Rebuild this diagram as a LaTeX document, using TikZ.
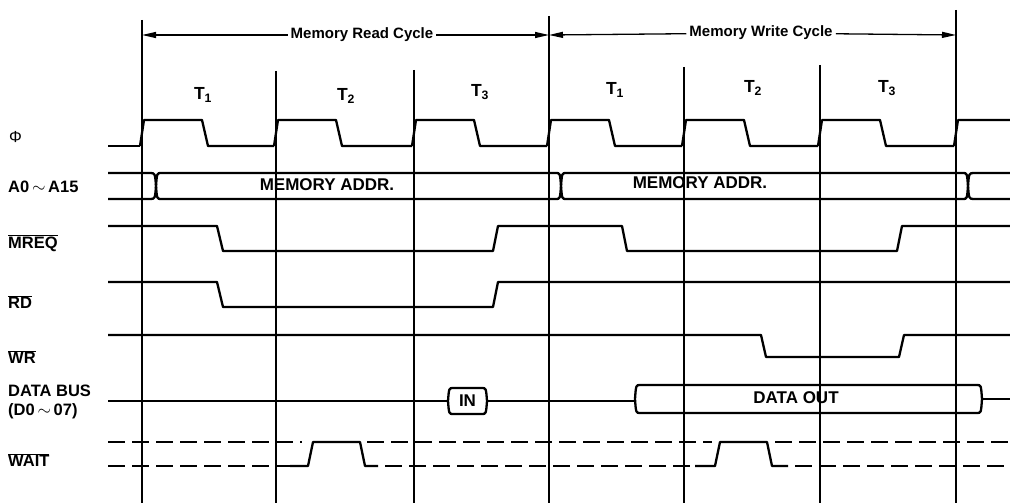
\documentclass[tikz,border=0pt]{standalone}
\usepackage{fontspec}
\setmainfont{Liberation Sans}
\usetikzlibrary{arrows.meta}

\tikzset{
	grid/.style={line width=1.3pt},
	sig/.style={line width=2.3pt, line join=round},
	dc/.style={line width=2.3pt, dash pattern=on 17pt off 7pt},
	cyc/.style={line width=1.3pt, -{Triangle[length=14pt,width=6pt]}},
	lbl/.style={anchor=west, inner sep=0pt, font=\fontsize{16.5}{19}\selectfont\bfseries},
	tlbl/.style={inner sep=0pt, font=\fontsize{17.5}{19}\selectfont\bfseries},
	cyctxt/.style={fill=white, inner sep=3pt, font=\fontsize{15}{17}\selectfont\bfseries},
	bustxt/.style={inner sep=0pt, font=\fontsize{17}{19}\selectfont\bfseries}
}

% bus box from #1 to #2, middle #3, half height #4
\newcommand{\busbox}[4]{
	\draw[sig] (#1,#3) .. controls (#1+1,#3-#4) .. (#1+5,#3-#4) -- (#2-5,#3-#4)
		.. controls (#2-1,#3-#4) .. (#2,#3) .. controls (#2-1,#3+#4) .. (#2-5,#3+#4)
		-- (#1+5,#3+#4) .. controls (#1+1,#3+#4) .. cycle;
}

\begin{document}
\begin{tikzpicture}[x=1pt,y=-1pt]

	\useasboundingbox[fill=white] (0,0) rectangle (1010,503);

	\foreach \x/\t in {142/20, 276/71, 414/70, 549/16, 684/67, 820/65, 956/10}
		\draw[grid] (\x,\t) -- (\x,503);

	\coordinate (rs) at (142,35);
	\coordinate (re) at (549,35);
	\coordinate (we) at (956,35);
	\node[cyctxt] (rtxt) at (362,35) {Memory Read Cycle};
	\node[cyctxt] (wtxt) at (761,33) {Memory Write Cycle};
	\draw[cyc] (rtxt) -- (rs);
	\draw[cyc] (rtxt) -- (re);
	\draw[cyc] (wtxt) -- (re);
	\draw[cyc] (wtxt) -- (we);

	\node[tlbl] (t1a) at (203,95) {T\textsubscript{1}};
	\node[tlbl] (t2a) at (346,96) {T\textsubscript{2}};
	\node[tlbl] (t3a) at (480,92) {T\textsubscript{3}};
	\node[tlbl] (t1b) at (615,90) {T\textsubscript{1}};
	\node[tlbl] (t2b) at (753,88) {T\textsubscript{2}};
	\node[tlbl] (t3b) at (887,88) {T\textsubscript{3}};

	\node[lbl, font=\fontsize{16}{18}\selectfont] (lphi) at (9,137) {Φ};
	\node[lbl] (laddr) at (8,187) {A0\,$\sim$\,A15};
	\node[lbl] (lmreq) at (8,243) {$\overline{\mbox{MREQ}}$};
	\node[lbl] (lrd) at (8,302) {$\overline{\mbox{RD}}$};
	\node[lbl] (lwr) at (8,357) {$\overline{\mbox{WR}}$};
	\node[lbl, align=left] (ldata) at (8,402) {DATA BUS\\(D0\,$\sim$\,07)};
	\node[lbl] (lwait) at (8,460) {$\overline{\mbox{WAIT}}$};

	\draw[sig] (108,146) -- (140,146);
	\foreach \x/\n in {142/276, 276/414, 414/549, 549/684, 684/820, 820/956}
		\draw[sig] (\x-2,146) -- (\x+2,120) -- (\x+60,120) -- (\x+66,146) -- (\n-2,146);
	\draw[sig] (954,146) -- (958,120) -- (1010,120);

	\draw[sig] (108,173) -- (150,173) .. controls (155,173) .. (156,186) .. controls (155,199) .. (150,199) -- (108,199);
	\busbox{156}{561}{186}{13}
	\busbox{561}{968}{186}{13}
	\draw[sig] (1010,173) -- (974,173) .. controls (969,173) .. (968,186) .. controls (969,199) .. (974,199) -- (1010,199);
	\node[bustxt] (addra) at (327,185) {MEMORY ADDR.};
	\node[bustxt] (addrb) at (700,183) {MEMORY ADDR.};

	\draw[sig] (108,226) -- (217,226) -- (223,251) -- (493,251) -- (498,226) -- (622,226)
		-- (627,251) -- (897,251) -- (902,226) -- (1010,226);

	\draw[sig] (108,282) -- (217,282) -- (223,307) -- (493,307) -- (498,282) -- (1010,282);

	\draw[sig] (108,335) -- (761,335) -- (766,357) -- (899,357) -- (904,335) -- (1010,335);

	\draw[sig] (108,401) -- (448,401);
	\busbox{448}{487}{401}{13}
	\node[bustxt] (din) at (467.5,401) {IN};
	\draw[sig] (487,401) -- (635,401);
	\busbox{635}{982}{399}{14}
	\node[bustxt] (dout) at (796,398) {DATA OUT};
	\draw[sig] (982,399) -- (1010,399);

	\draw[dc] (108,442) -- (302,442);
	\draw[dc] (108,466) -- (290,466);
	\draw[sig] (290,466) -- (308,466) -- (313,442) -- (360,442) -- (365,466) -- (378,466);
	\draw[dc] (367,442) -- (712,442);
	\draw[dc] (385,466) -- (695,466);
	\draw[sig] (695,466) -- (715,466) -- (720,442) -- (767,442) -- (772,466) -- (788,466);
	\draw[dc] (775,442) -- (1010,442);
	\draw[dc] (795,466) -- (1010,466);

\end{tikzpicture}
\end{document}
